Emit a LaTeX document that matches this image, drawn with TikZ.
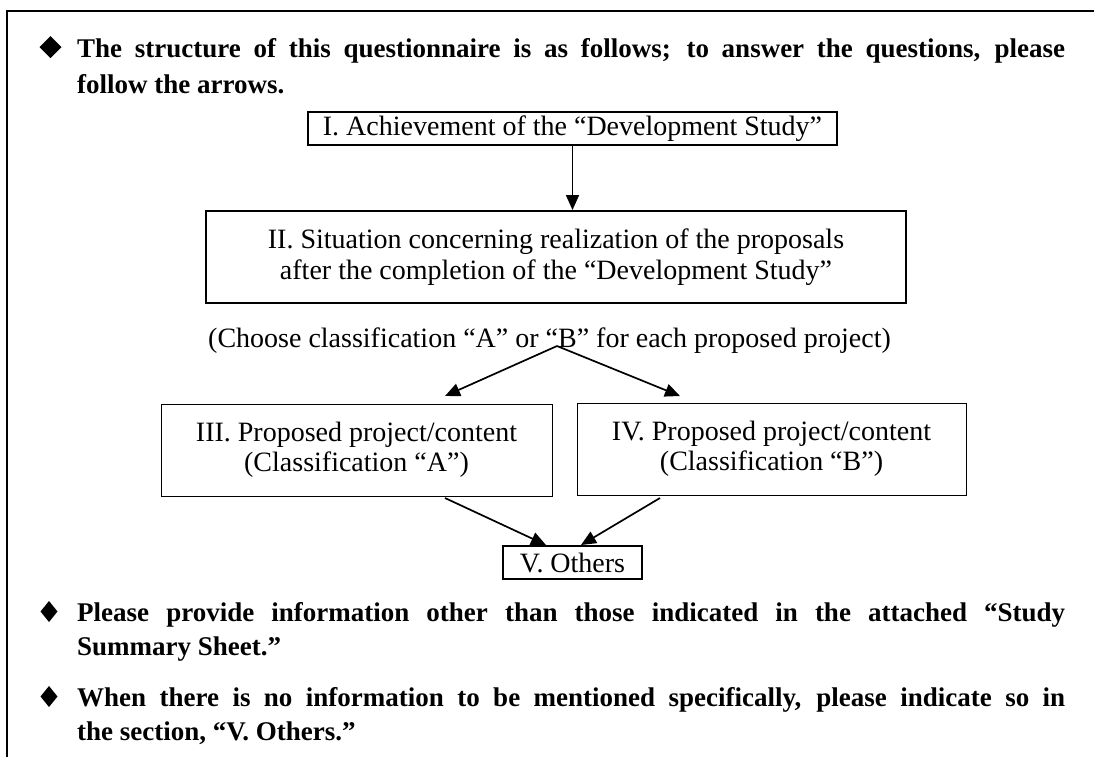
\documentclass[tikz,border=0pt]{standalone}
\usepackage{fontspec}
\setmainfont{Liberation Serif}
\usetikzlibrary{arrows.meta}
\begin{document}
\begin{tikzpicture}[x=1pt,y=-1pt,
  reg/.style={font=\fontsize{28}{30.5}\selectfont},
  bx/.style={reg, draw, line width=2pt, rectangle, inner sep=0pt, align=center},
  thinbx/.style={bx, line width=1pt},
  arr/.style={-{Triangle[length=15pt,width=13pt]}, line width=1.7pt},
  boldtxt/.style={anchor=base west, inner sep=0pt, font=\fontsize{27}{33}\selectfont\bfseries}]
\useasboundingbox (0,0) rectangle (1094,756);
\clip (0,0) rectangle (1094,756);
% frame
\draw[line width=2pt] (6.5,780) -- (6.5,10.5) -- (1120,10.5);
% bullets
\fill (50.5,36) -- (61.5,47) -- (50.5,58) -- (39.5,47) -- cycle;
\fill (49,601) -- (57.5,611.5) -- (49,622) -- (40.5,611.5) -- cycle;
\fill (49,686) -- (57.5,696.5) -- (49,707) -- (40.5,696.5) -- cycle;
% bold texts
\node[boldtxt] (t1a) at (77,57) {\makebox[988pt][s]{The structure of this questionnaire is as follows; to answer the questions, please}};
\node[boldtxt] (t1b) at (77,93) {follow the arrows.};
\node[boldtxt] (t2a) at (77,621) {\makebox[988pt][s]{Please provide information other than those indicated in the attached “Study}};
\node[boldtxt] (t2b) at (77,655) {Summary Sheet.”};
\node[boldtxt] (t3a) at (77,706) {\makebox[988pt][s]{When there is no information to be mentioned specifically, please indicate so in}};
\node[boldtxt] (t3b) at (77,740) {the section, “V. Others.”};
% boxes
\node[bx, minimum width=529pt, minimum height=33pt] (b1) at (572.5,128.5) {I. Achievement of the “Development Study”};
\node[bx, minimum width=700pt, minimum height=92pt] (b2) at (556,257) {II. Situation concerning realization of the proposals\\after the completion of the “Development Study”};
\node[reg, anchor=base, inner sep=0pt] (ch) at (549.5,347) {(Choose classification “A” or “B” for each proposed project)};
\node[thinbx, minimum width=391pt, minimum height=92pt] (b3) at (356.5,450) {III. Proposed project/content\\(Classification “A”)};
\node[thinbx, minimum width=389pt, minimum height=92pt] (b4) at (771.5,449) {IV. Proposed project/content\\(Classification “B”)};
\node[bx, minimum width=139pt, minimum height=33pt] (b5) at (572.5,562.5) {V. Others};
% connectors
\draw[arr] (b1.south) -- (b1.south |- b2.north);
\coordinate (apex) at (557,346);
\coordinate (tA) at (445,396);
\coordinate (tB) at (680,396);
\draw[arr] (apex) -- (tA);
\draw[arr] (apex) -- (tB);
\coordinate (sA) at (445,498);
\coordinate (eA) at (546,545);
\coordinate (sB) at (660,498);
\coordinate (eB) at (581,545);
\draw[arr] (sA) -- (eA);
\draw[arr] (sB) -- (eB);
\end{tikzpicture}
\end{document}
